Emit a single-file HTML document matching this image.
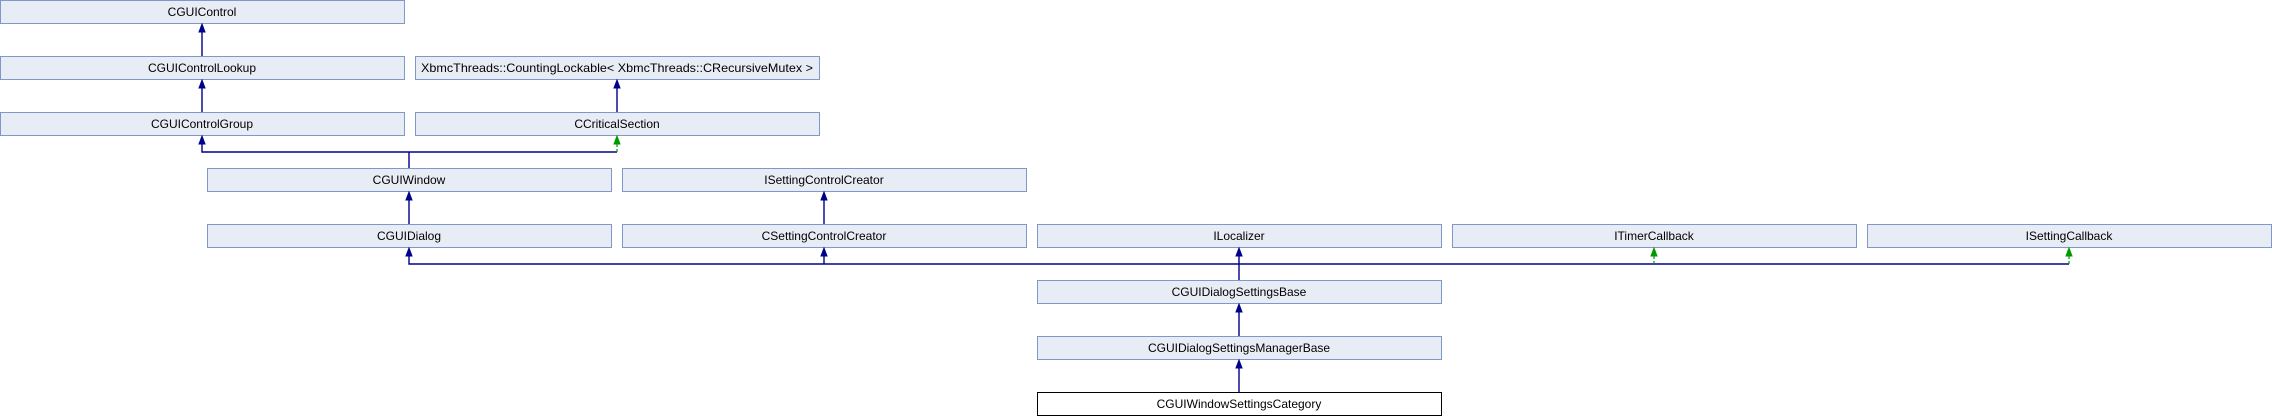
<!DOCTYPE html>
<html><head><meta charset="utf-8"><style>
html,body{margin:0;padding:0;background:#fff;}
svg{display:block;}
text{font-family:"Liberation Sans",Arial,sans-serif;font-size:12px;fill:#000;text-anchor:middle;}
.b{fill:#e8ecf5;stroke:#7f98cc;stroke-width:1;}
.w{fill:#fff;stroke:#000;stroke-width:1;}
.l{stroke:#000088;stroke-width:1.4;fill:none;}
.g{stroke:#009900;stroke-width:1.2;fill:none;stroke-dasharray:3,2;}
</style></head><body>
<svg width="2272" height="416" viewBox="0 0 2272 416" xmlns="http://www.w3.org/2000/svg">
<rect class="b" x="0.5" y="0.5" width="404" height="23"/><text x="202" y="16">CGUIControl</text>
<rect class="b" x="0.5" y="56.5" width="404" height="23"/><text x="202" y="72">CGUIControlLookup</text>
<rect class="b" x="415.5" y="56.5" width="404" height="23"/><text x="617" y="72" textLength="392" lengthAdjust="spacingAndGlyphs">XbmcThreads::CountingLockable&lt; XbmcThreads::CRecursiveMutex &gt;</text>
<rect class="b" x="0.5" y="112.5" width="404" height="23"/><text x="202" y="128">CGUIControlGroup</text>
<rect class="b" x="415.5" y="112.5" width="404" height="23"/><text x="617" y="128">CCriticalSection</text>
<rect class="b" x="207.5" y="168.5" width="404" height="23"/><text x="409" y="184">CGUIWindow</text>
<rect class="b" x="622.5" y="168.5" width="404" height="23"/><text x="824" y="184">ISettingControlCreator</text>
<rect class="b" x="207.5" y="224.5" width="404" height="23"/><text x="409" y="240">CGUIDialog</text>
<rect class="b" x="622.5" y="224.5" width="404" height="23"/><text x="824" y="240">CSettingControlCreator</text>
<rect class="b" x="1037.5" y="224.5" width="404" height="23"/><text x="1239" y="240">ILocalizer</text>
<rect class="b" x="1452.5" y="224.5" width="404" height="23"/><text x="1654" y="240">ITimerCallback</text>
<rect class="b" x="1867.5" y="224.5" width="404" height="23"/><text x="2069" y="240">ISettingCallback</text>
<rect class="b" x="1037.5" y="280.5" width="404" height="23"/><text x="1239" y="296">CGUIDialogSettingsBase</text>
<rect class="b" x="1037.5" y="336.5" width="404" height="23"/><text x="1239" y="352">CGUIDialogSettingsManagerBase</text>
<rect class="w" x="1037.5" y="392.5" width="404" height="23"/><text x="1239" y="408">CGUIWindowSettingsCategory</text>
<path class="l" d="M202,56V30 M202,112V86 M617,112V86 M202,142V152H617 M409,152V168 M409,224V198 M824,224V198"/>
<path class="g" d="M617,152V142"/>
<path class="l" d="M409,254V264H1654 M824,264V254 M1239,280V254 M1239,336V310 M1239,392V366 M1654,264H2069"/>
<path class="g" d="M1654,264V254 M2069,264V254"/>
<g fill="#000088" stroke="#000088">
<path d="M202,24l-3,8h6z"/><path d="M202,80l-3,8h6z"/><path d="M617,80l-3,8h6z"/>
<path d="M202,136l-3,8h6z"/><path d="M409,192l-3,8h6z"/><path d="M824,192l-3,8h6z"/>
<path d="M409,248l-3,8h6z"/><path d="M824,248l-3,8h6z"/><path d="M1239,248l-3,8h6z"/>
<path d="M1239,304l-3,8h6z"/><path d="M1239,360l-3,8h6z"/>
</g>
<g fill="#009900" stroke="#009900">
<path d="M617,136l-3,8h6z"/><path d="M1654,248l-3,8h6z"/><path d="M2069,248l-3,8h6z"/>
</g>
</svg>
</body></html>
